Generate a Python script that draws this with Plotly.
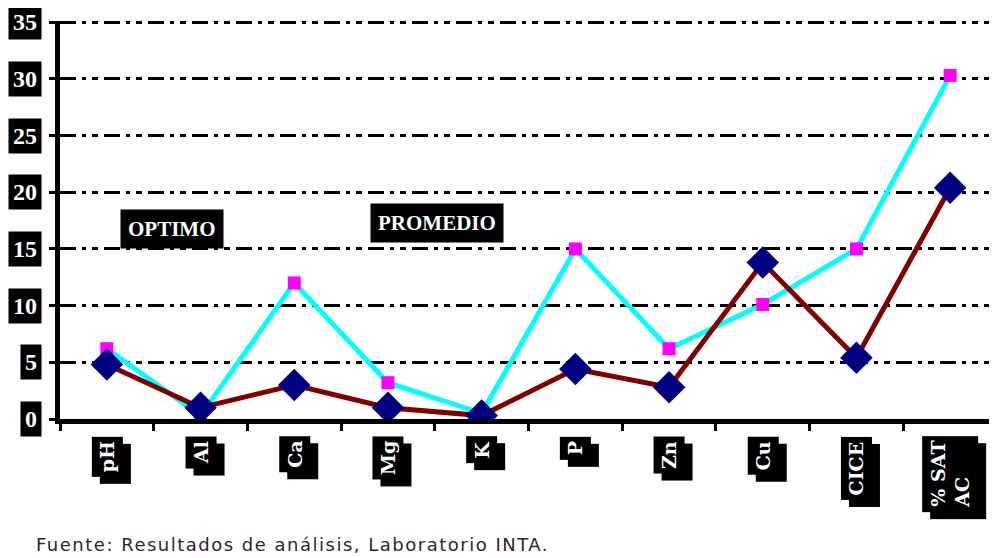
import plotly.graph_objects as go

categories = ["pH", "Al", "Ca", "Mg", "K", "P", "Zn", "Cu", "CICE", "% SAT AC"]
tick_labels = ["pH", "Al", "Ca", "Mg", "K", "P", "Zn", "Cu", "CICE", "% SAT<br>AC"]
optimo = [6.2, 0.3, 12.0, 3.2, 0.5, 15.0, 6.2, 10.1, 15.0, 30.3]
promedio = [4.8, 1.0, 3.0, 1.0, 0.3, 4.4, 2.8, 13.8, 5.4, 20.4]
y_ticks = [0, 5, 10, 15, 20, 25, 30, 35]
source_text = "Fuente: Resultados de análisis, Laboratorio INTA."

fig = go.Figure()
fig.add_trace(go.Scatter(
    x=categories, y=optimo, mode="lines+markers", name="OPTIMO",
    line=dict(color="#00FFFF", width=5),
    marker=dict(symbol="square", size=13, color="#FF00FF"),
))
fig.add_trace(go.Scatter(
    x=categories, y=promedio, mode="lines+markers", name="PROMEDIO",
    line=dict(color="#800000", width=5),
    marker=dict(symbol="diamond", size=25, color="#000080"),
))

annotations = []
# y tick labels in black boxes
for v in y_ticks:
    annotations.append(dict(
        x=0, xref="paper", y=v, yref="y", xanchor="right", yanchor="middle",
        xshift=-18, text=str(v), showarrow=False,
        font=dict(family="Liberation Serif", size=24, color="white", weight="bold"),
        bgcolor="black", borderpad=4,
    ))
# x tick labels rotated, with shadow
for c, t in zip(categories, tick_labels):
    annotations.append(dict(
        x=c, xref="x", y=0, yref="paper", xanchor="center", yanchor="top",
        xshift=8, yshift=-24, text=t, showarrow=False, textangle=-90, align="left",
        font=dict(family="DejaVu Serif", size=19, color="black", weight="bold"),
        bgcolor="black", borderpad=4,
    ))
    annotations.append(dict(
        x=c, xref="x", y=0, yref="paper", xanchor="center", yanchor="top",
        xshift=0, yshift=-17, text=t, showarrow=False, textangle=-90, align="left",
        font=dict(family="DejaVu Serif", size=19, color="white", weight="bold"),
        bgcolor="black", borderpad=4,
    ))
# series labels
annotations.append(dict(
    x="Al", xref="x", y=16.8, yref="y", xanchor="center", yanchor="middle", xshift=-29,
    text="OPTIMO", showarrow=False,
    font=dict(family="Liberation Serif", size=21, color="white", weight="bold"),
    bgcolor="black", borderpad=7,
))
annotations.append(dict(
    x="Mg", xref="x", y=17.3, yref="y", xanchor="center", yanchor="middle", xshift=49,
    text="PROMEDIO", showarrow=False,
    font=dict(family="Liberation Serif", size=21, color="white", weight="bold"),
    bgcolor="black", borderpad=7,
))
# source note
annotations.append(dict(
    x=0, xref="paper", y=0, yref="paper", xanchor="left", yanchor="middle",
    xshift=-26, yshift=-125,
    text='<span style="letter-spacing:1.5px">' + source_text + "</span>", showarrow=False,
    font=dict(family="DejaVu Sans", size=18, color="#2e2440"),
))

# page body has an 8px margin, so the figure is shrunk to keep the reference layout
fig.update_layout(
    width=989, height=550,
    margin=dict(l=52, r=0, t=13, b=139),
    paper_bgcolor="white", plot_bgcolor="white",
    showlegend=False,
    annotations=annotations,
    xaxis=dict(
        type="category", range=[-0.5, 9.5], showline=True, linewidth=5, linecolor="black",
        showgrid=False, ticks="outside", tickson="boundaries", ticklen=7,
        tickwidth=3, tickcolor="black", showticklabels=False,
    ),
    yaxis=dict(
        range=[0, 35.1], tickvals=y_ticks, showline=True, linewidth=5, linecolor="black",
        showgrid=True, gridcolor="black", gridwidth=3, griddash="16px,6px,4px,6px,6px,6px",
        zeroline=False, ticks="outside", ticklen=6, tickwidth=3, tickcolor="black",
        showticklabels=False,
    ),
)

fig.write_html("out.html")
